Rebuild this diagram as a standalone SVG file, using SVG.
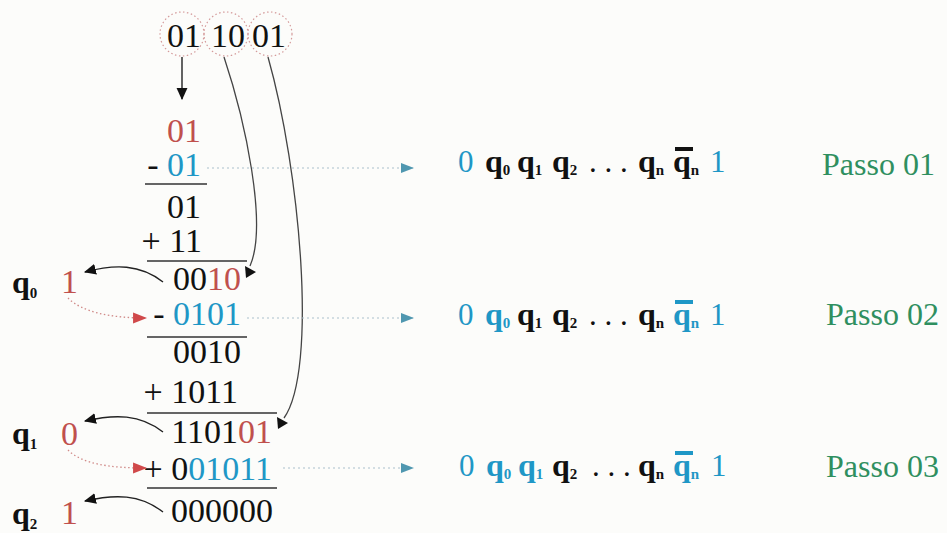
<svg xmlns="http://www.w3.org/2000/svg" width="947" height="533" viewBox="0 0 947 533" font-family="'Liberation Serif','DejaVu Serif',serif">
<style>
text, tspan{font-family:"Liberation Serif","DejaVu Serif","Times New Roman",serif;}
.d{font-size:34px;fill:#111;}
.r{fill:#c0504d;}
.b{fill:#1f97c6;}
.k{fill:#111;}
.q{font-size:32px;font-weight:bold;}
.s{font-size:15px;font-weight:bold;}
.e{font-size:31px;}
.p{font-size:32px;fill:#2f8f5f;}
.rule{stroke:#333;stroke-width:1.3;fill:none;}
.circ{fill:none;stroke:#d49a9a;stroke-width:1.2;stroke-dasharray:1.5 2.5;}
.cur{fill:none;stroke:#444;stroke-width:1.3;}
.blk{fill:none;stroke:#222;stroke-width:1.4;}
.rd{fill:none;stroke:#d08a88;stroke-width:1.3;stroke-dasharray:1.5 2.5;}
.hd{fill:none;stroke:#a9bfcc;stroke-width:1.2;stroke-dasharray:2 3;}
</style>
<defs>
<marker id="ab" markerWidth="12" markerHeight="12" refX="10" refY="5" orient="auto" markerUnits="userSpaceOnUse" viewBox="0 0 11 10"><path d="M0,0 L11,5 L0,10 Z" fill="#111"/></marker>
<marker id="ar" markerWidth="14" markerHeight="12" refX="12" refY="5" orient="auto" markerUnits="userSpaceOnUse" viewBox="0 0 13 10"><path d="M0,0 L13,5 L0,10 Z" fill="#d0494a"/></marker>
<marker id="at" markerWidth="13" markerHeight="12" refX="12" refY="5" orient="auto" markerUnits="userSpaceOnUse" viewBox="0 0 13 10"><path d="M0,0 L13,5 L0,10 Z" fill="#4f97b0"/></marker>
</defs>
<rect width="947" height="533" fill="#fcfcfa"/>

<g id="top">
<circle class="circ" cx="182" cy="34" r="22"/>
<circle class="circ" cx="226" cy="34" r="22"/>
<circle class="circ" cx="270" cy="34" r="22"/>
<text class="d" x="184" y="47" text-anchor="middle">01</text>
<text class="d" x="228" y="47" text-anchor="middle">10</text>
<text class="d" x="269" y="47" text-anchor="middle">01</text>
</g>

<g id="step1">
<text class="d r" x="201" y="142" text-anchor="end">01</text>
<text class="d" x="201" y="176" text-anchor="end"><tspan class="k">- </tspan><tspan class="b">01</tspan></text>
<line class="rule" x1="145" y1="184" x2="207" y2="184"/>
<text class="d" x="201" y="218" text-anchor="end">01</text>
<text class="d" x="202" y="252" text-anchor="end">+ 11</text>
<line class="rule" x1="147" y1="261" x2="247" y2="261"/>
<text class="d" x="241" y="290" text-anchor="end"><tspan class="k">00</tspan><tspan class="r">10</tspan></text>
</g>

<g id="step2">
<text class="d" x="241" y="325" text-anchor="end"><tspan class="k">- </tspan><tspan class="b">0101</tspan></text>
<line class="rule" x1="147" y1="337" x2="247" y2="337"/>
<text class="d" x="241" y="363" text-anchor="end">0010</text>
<text class="d" x="238" y="403" text-anchor="end">+ 1011</text>
<line class="rule" x1="147" y1="413" x2="277" y2="413"/>
<text class="d" x="272" y="443" text-anchor="end"><tspan class="k">1101</tspan><tspan class="r">01</tspan></text>
</g>

<g id="step3">
<text class="d" x="272" y="480" text-anchor="end"><tspan class="k">+ 0</tspan><tspan class="b">01011</tspan></text>
<line class="rule" x1="147" y1="488" x2="277" y2="488"/>
<text class="d" x="273" y="522" text-anchor="end">000000</text>
</g>

<g id="q0">
<text x="12" y="293"><tspan class="q k">q</tspan><tspan class="s k" dy="5">0</tspan></text>
<text class="d r" x="61" y="293">1</text>
</g>
<g id="q1">
<text x="12" y="444"><tspan class="q k">q</tspan><tspan class="s k" dy="5">1</tspan></text>
<text class="d r" x="61" y="445">0</text>
</g>
<g id="q2">
<text x="12" y="524"><tspan class="q k">q</tspan><tspan class="s k" dy="5">2</tspan></text>
<text class="d r" x="61" y="524">1</text>
</g>

<g id="row1">
<text class="e b" x="458" y="172">0</text>
<text x="485" y="172"><tspan class="q k">q</tspan><tspan class="s k" dy="3">0</tspan></text>
<text x="517" y="172"><tspan class="q k">q</tspan><tspan class="s k" dy="3">1</tspan></text>
<text x="552" y="172"><tspan class="q k">q</tspan><tspan class="s k" dy="3">2</tspan></text>
<text class="e k" x="589" y="172">. . .</text>
<text x="638" y="172"><tspan class="q k">q</tspan><tspan class="s k" dy="3">n</tspan></text>
<text x="673" y="172"><tspan class="q k">q</tspan><tspan class="s k" dy="3">n</tspan></text>
<rect x="675" y="147" width="18" height="4" fill="#111"/>
<text class="e b" x="710" y="172">1</text>
</g>

<g id="row2">
<text class="e b" x="458" y="325">0</text>
<text x="485" y="325"><tspan class="q b">q</tspan><tspan class="s b" dy="3">0</tspan></text>
<text x="517" y="325"><tspan class="q k">q</tspan><tspan class="s k" dy="3">1</tspan></text>
<text x="552" y="325"><tspan class="q k">q</tspan><tspan class="s k" dy="3">2</tspan></text>
<text class="e k" x="589" y="325">. . .</text>
<text x="638" y="325"><tspan class="q k">q</tspan><tspan class="s k" dy="3">n</tspan></text>
<text x="673" y="325"><tspan class="q b">q</tspan><tspan class="s b" dy="3">n</tspan></text>
<rect x="675" y="300" width="18" height="4" fill="#1f97c6"/>
<text class="e b" x="710" y="325">1</text>
</g>

<g id="row3">
<text class="e b" x="459" y="476">0</text>
<text x="486" y="476"><tspan class="q b">q</tspan><tspan class="s b" dy="3">0</tspan></text>
<text x="518" y="476"><tspan class="q b">q</tspan><tspan class="s b" dy="3">1</tspan></text>
<text x="552" y="476"><tspan class="q k">q</tspan><tspan class="s k" dy="3">2</tspan></text>
<text class="e k" x="592" y="476">. . .</text>
<text x="638" y="476"><tspan class="q k">q</tspan><tspan class="s k" dy="3">n</tspan></text>
<text x="673" y="476"><tspan class="q b">q</tspan><tspan class="s b" dy="3">n</tspan></text>
<rect x="675" y="451" width="18" height="4" fill="#1f97c6"/>
<text class="e b" x="711" y="476">1</text>
</g>

<g id="passo">
<text class="p" x="822" y="175">Passo 01</text>
<text class="p" x="826" y="325">Passo 02</text>
<text class="p" x="826" y="477">Passo 03</text>
</g>

<g id="connectors">
<line class="blk" x1="182" y1="57" x2="182" y2="99" marker-end="url(#ab)"/>
<path class="cur" d="M224,57 C245,120 268,225 250,266"/>
<polygon points="245,266 256,272 246,278" fill="#111"/>
<path class="cur" d="M268,57 C300,170 318,370 284,418"/>
<polygon points="277,417 288,423 278,429" fill="#111"/>
<path class="blk" d="M163,282 C140,264 115,264 85,272" marker-end="url(#ab)"/>
<path class="blk" d="M163,432 C140,414 115,414 85,421" marker-end="url(#ab)"/>
<path class="blk" d="M163,512 C140,494 115,494 85,501" marker-end="url(#ab)"/>
<path class="rd" d="M68,298 C82,312 110,318 146,318" marker-end="url(#ar)"/>
<path class="rd" d="M68,450 C82,464 110,468 146,468" marker-end="url(#ar)"/>
<path class="hd" d="M207,168 H413" marker-end="url(#at)"/>
<path class="hd" d="M247,318 H413" marker-end="url(#at)"/>
<path class="hd" d="M283,468 H413" marker-end="url(#at)"/>
</g>
</svg>
